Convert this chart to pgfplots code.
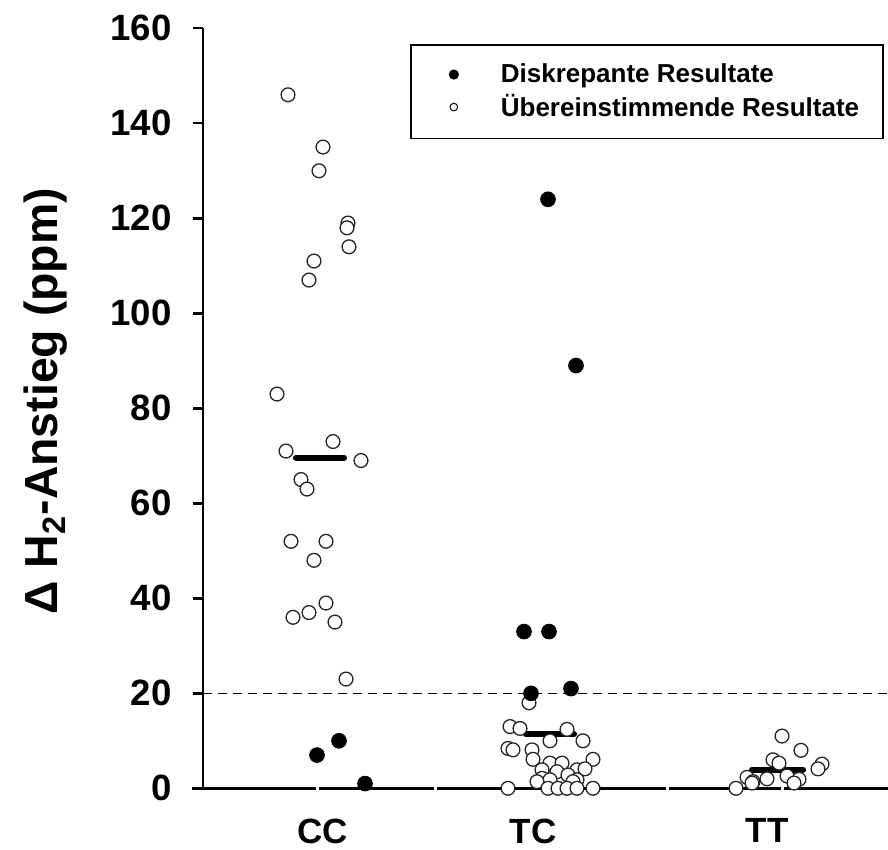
\documentclass[border=0pt]{standalone}
\usepackage{fontspec}
\setmainfont{Liberation Sans}
\usepackage{pgfplots}
\pgfplotsset{compat=1.18}
\begin{document}
\begin{tikzpicture}
\begin{axis}[
  x=0.5pt, y=2.375pt,
  xmin=203, xmax=888, ymin=0, ymax=160,
  clip=false,
  axis y line*=left, axis x line*=bottom,
  x axis line style={draw=none},
  y axis line style={line width=1.2pt},
  ytick={0,20,...,160},
  xtick={323,533,767}, xticklabels={CC,TC,TT},
  ytick style={line width=1.2pt, black},
  xtick style={draw=none},
  tick align=outside, major tick length=5pt,
  /pgf/number format/assume math mode=true,
  yticklabel style={font=\bfseries\fontsize{18.3}{18.3}\selectfont, inner sep=0pt, xshift=-10.5pt},
  xticklabel style={font=\bfseries\fontsize{17.5}{17.5}\selectfont, inner sep=0pt, yshift=-10pt},
  legend style={at={(axis cs:410,156.7)}, anchor=north west, draw=black, line width=0.85pt,
    fill=white, inner xsep=12pt, inner ysep=9.4pt, row sep=4.5pt,
    nodes={inner sep=0pt},
    font=\bfseries\fontsize{13}{15}\selectfont},
  legend cell align=left,
]
% x axis line segments
\addplot[forget plot, black, line width=1.2pt] coordinates {(192,0) (316.5,0)};
\addplot[forget plot, black, line width=1.2pt] coordinates {(319.5,0) (433.5,0)};
\addplot[forget plot, black, line width=1.2pt] coordinates {(436.5,0) (665.5,0)};
\addplot[forget plot, black, line width=1.2pt] coordinates {(668.5,0) (780.5,0)};
\addplot[forget plot, black, line width=1.2pt] coordinates {(783.5,0) (888,0)};
% threshold
\addplot[forget plot, black, line width=0.6pt, dash pattern=on 4.5pt off 3pt] coordinates {(203,20) (888,20)};
% open circles
\addplot[forget plot, only marks, mark=*, mark size=3.45pt, mark options={fill=white, draw=black!85, line width=0.65pt}] coordinates {
 (288,146) (323,135) (319,130) (348,119) (347,118) (349,114) (314,111) (309,107)
 (277,83) (333,73) (286,71) (361,69) (301,65) (307,63) (291,52) (326,52) (314,48)
 (326,39) (309,37) (293,36) (335,35) (346,23)
 (529,18) (510,13) (520,12.6) (567,12.4) (550,10) (583,10) (508,8.4) (513,8.1) (532,8.1)
 (533,6.1) (593,6.1) (550,5.3) (562,5.3) (542,3.9) (557,3.5) (577,3.9) (585,4.1) (568,2.8)
 (542,2.1) (550,1.8) (577,1.8) (537,1.4) (573,1.4)
 (508,0) (548,0) (558,0) (567,0) (577,0) (593,0)
 (782,11) (801,8) (773,6) (779,5.3) (822,5.1) (818,4.1) (747,2.3) (753,1.4) (767,2.0)
 (787,2.6) (799,1.9) (736,0) (752,1.1) (794,1.1)
};
% filled circles
\addplot[forget plot, only marks, mark=*, mark size=3.7pt, mark options={fill=black, draw=black}] coordinates {
 (317,7) (339,10) (365,1)
 (548,124) (576,89) (524,33) (549,33) (531,20) (571,21)
};
% means
\addplot[forget plot, black, line width=3.1pt, line cap=round] coordinates {(296,69.6) (344,69.6)};
\addplot[forget plot, black, line width=3.1pt, line cap=round] coordinates {(526,11.4) (574,11.4)};
\addplot[forget plot, black, line width=3.1pt, line cap=round] coordinates {(752,3.9) (803,3.9)};
% legend
\addlegendimage{legend image code/.code={\path[draw=none,fill=none] (-9.5pt,0) -- (23.5pt,0); \fill[black] (0,0) circle (2.1pt);}}
\addlegendentry{Diskrepante Resultate}
\addlegendimage{legend image code/.code={\path[draw=none,fill=none] (-9.5pt,0) -- (23.5pt,0); \draw[black, line width=0.5pt, fill=white] (0,0) circle (1.9pt);}}
\addlegendentry{Übereinstimmende Resultate}
% y label
\node[rotate=90, font=\bfseries\fontsize{23.2}{23.2}\selectfont] at (axis cs:46,81.5) {Δ H\textsubscript{2}-Anstieg (ppm)};
\coordinate (bbl) at (axis cs:0,-12.78);
\coordinate (btr) at (axis cs:888,165.96);
\end{axis}
\pgfresetboundingbox
\path[use as bounding box] (bbl) rectangle (btr);
\end{tikzpicture}
\end{document}
